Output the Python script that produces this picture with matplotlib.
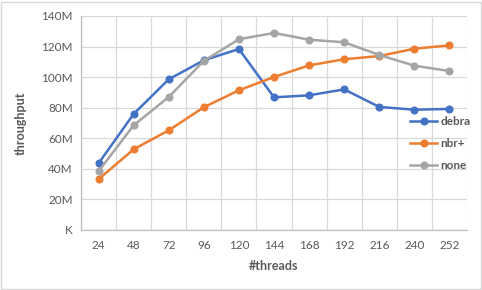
import matplotlib
matplotlib.use("Agg")
import matplotlib.pyplot as plt
from matplotlib.ticker import FuncFormatter

threads = ["24", "48", "72", "96", "120", "144", "168", "192", "216", "240", "252"]
debra = [43.6, 75.9, 98.6, 111.0, 118.4, 86.8, 88.1, 92.0, 80.5, 78.7, 79.2]
nbr_plus = [33.2, 52.8, 65.2, 80.3, 91.4, 100.1, 107.7, 111.7, 113.8, 118.6, 120.8]
none = [38.4, 68.5, 87.0, 110.6, 124.8, 128.9, 124.5, 122.8, 114.5, 107.5, 104.0]
series_names = ["debra", "nbr+", "none"]

plt.rcParams['font.family'] = ['Lato', 'DejaVu Sans']
txt = '#595959'
grid = '#D9D9D9'

fig = plt.figure(figsize=(4.82, 2.9), dpi=100)
ax = fig.add_axes([81/482, 1-230/290, (467-81)/482, (230-16)/290])

x = list(range(len(threads)))
colors = ['#4472C4', '#ED7D31', '#A5A5A5']
for vals, name, c in zip([debra, nbr_plus, none], series_names, colors):
    ax.plot(x, [v*1e6 for v in vals], color=c, lw=1.8, marker='o', ms=4.8, label=name)

ax.set_xlim(-0.5, len(threads)-0.5)
ax.set_ylim(0, 140e6)
ax.set_yticks([i*20e6 for i in range(8)])
ax.yaxis.set_major_formatter(FuncFormatter(lambda v, p: 'K' if v == 0 else f'{int(round(v/1e6))}M'))
ax.set_xticks(x)
ax.set_xticklabels(threads)
ax.set_xticks([i-0.5 for i in range(len(threads)+1)], minor=True)
ax.grid(False)
ax.yaxis.grid(True, color=grid, lw=0.9)
ax.xaxis.grid(True, which='minor', color=grid, lw=0.9)
ax.set_axisbelow(True)
ax.tick_params(which='both', length=0, colors=txt, labelsize=8.5)
ax.tick_params(axis='x', pad=7)
ax.tick_params(axis='y', pad=6)
for s in ['top', 'right']:
    ax.spines[s].set_visible(False)
for s in ['left', 'bottom']:
    ax.spines[s].set_color('#BFBFBF')
    ax.spines[s].set_linewidth(0.9)

ax.set_xlabel('#threads', color=txt, fontsize=9, fontweight='bold', labelpad=7)
ax.set_ylabel('throughput', color=txt, fontsize=9, fontweight='bold', labelpad=10)

leg = fig.legend(loc='upper left', bbox_to_anchor=(410/482, 1-116/290), frameon=False,
                 fontsize=8.5, handlelength=2.3, handletextpad=0.3, labelspacing=0.95,
                 borderaxespad=0, borderpad=0)
for t in leg.get_texts():
    t.set_color(txt)
    t.set_fontweight('bold')

border = plt.Rectangle((0.003, 0.004), 0.994, 0.99, transform=fig.transFigure,
                       fill=False, edgecolor='#D9D9D9', lw=1)
fig.patches.append(border)

fig.savefig('out.png', dpi=100, facecolor='white')
